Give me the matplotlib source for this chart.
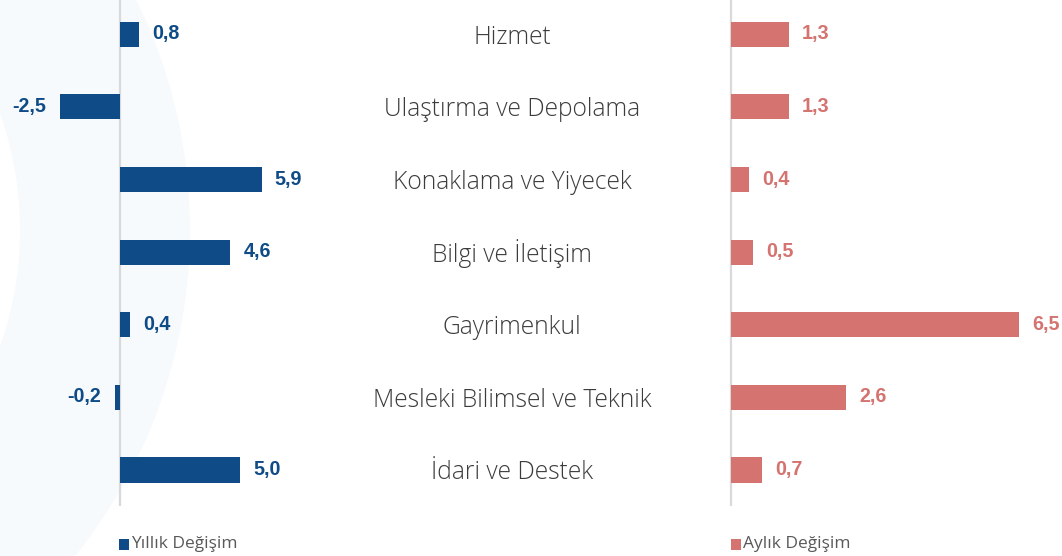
import numpy as np
import matplotlib
matplotlib.use('Agg')
import matplotlib.pyplot as plt
from matplotlib.patches import Wedge, Rectangle

categories = ['Hizmet', 'Ulaştırma ve Depolama', 'Konaklama ve Yiyecek', 'Bilgi ve İletişim',
              'Gayrimenkul', 'Mesleki Bilimsel ve Teknik', 'İdari ve Destek']
yillik = [0.8, -2.5, 5.9, 4.6, 0.4, -0.2, 5.0]
aylik = [1.3, 1.3, 0.4, 0.5, 6.5, 2.6, 0.7]
legend_labels = ['Yıllık Değişim', 'Aylık Değişim']

blue = '#0f4c87'
red = '#d4736f'
W, H = 1062, 556

fig = plt.figure(figsize=(W / 100, H / 100), dpi=100)

# faint watermark in the background
bg = fig.add_axes([0, 0, 1, 1], zorder=0)
bg.set_xlim(0, W); bg.set_ylim(H, 0); bg.axis('off')
bg.add_patch(Wedge((-330, 230), 520, 0, 360, width=170, color='#f7fafc', lw=0))

y = np.arange(len(categories))
bottom, top = 49.7, 558
rect_y = [bottom / H, (top - bottom) / H]

def panel(x0, x1, vals, color, xlim):
    ax = fig.add_axes([x0 / W, rect_y[0], (x1 - x0) / W, rect_y[1]], zorder=1)
    ax.patch.set_alpha(0)
    ax.barh(y, vals, height=0.345, color=color)
    ax.set_xlim(*xlim)
    ax.set_ylim(len(categories) - 0.5, -0.5)
    ax.axvline(0, color='#d9d9d9', lw=1.6, zorder=0)
    for s in ax.spines.values():
        s.set_visible(False)
    ax.set_xticks([]); ax.set_yticks([])
    for yi, v in zip(y, vals):
        lbl = f'{v:.1f}'.replace('.', ',')
        off = 9.5 if v >= 0 else -10
        ax.annotate(lbl, (v, yi), xytext=(off, -3.6), textcoords='offset points',
                    ha='left' if v >= 0 else 'right', va='baseline',
                    fontsize=14.2, fontweight='bold', color=color, family='Liberation Sans')
    return ax

panel(0, 360, yillik, blue, (-5, 10))
panel(700, W, aylik, red, (-31 / 44.3, (W - 731) / 44.3))

mid = fig.add_axes([340 / W, rect_y[0], 344 / W, rect_y[1]], zorder=1)
mid.patch.set_alpha(0); mid.axis('off')
mid.set_xlim(0, 1); mid.set_ylim(len(categories) - 0.5, -0.5)
for yi, c in zip(y, categories):
    mid.text(0.5, yi + 0.13, c, ha='center', va='baseline', fontsize=17.7,
             color='#3c3c3c', family='Open Sans', fontweight='light')

# legend entries
for x, lbl, color in [(119, legend_labels[0], blue), (731, legend_labels[1], red)]:
    bg.add_patch(Rectangle((x, 538.5), 10, 11, color=color, lw=0))
    bg.text(x + 12, 544, lbl, ha='left', va='center', fontsize=12.5,
            color='#595959', family='Open Sans')

fig.savefig('out.png', dpi=100)
